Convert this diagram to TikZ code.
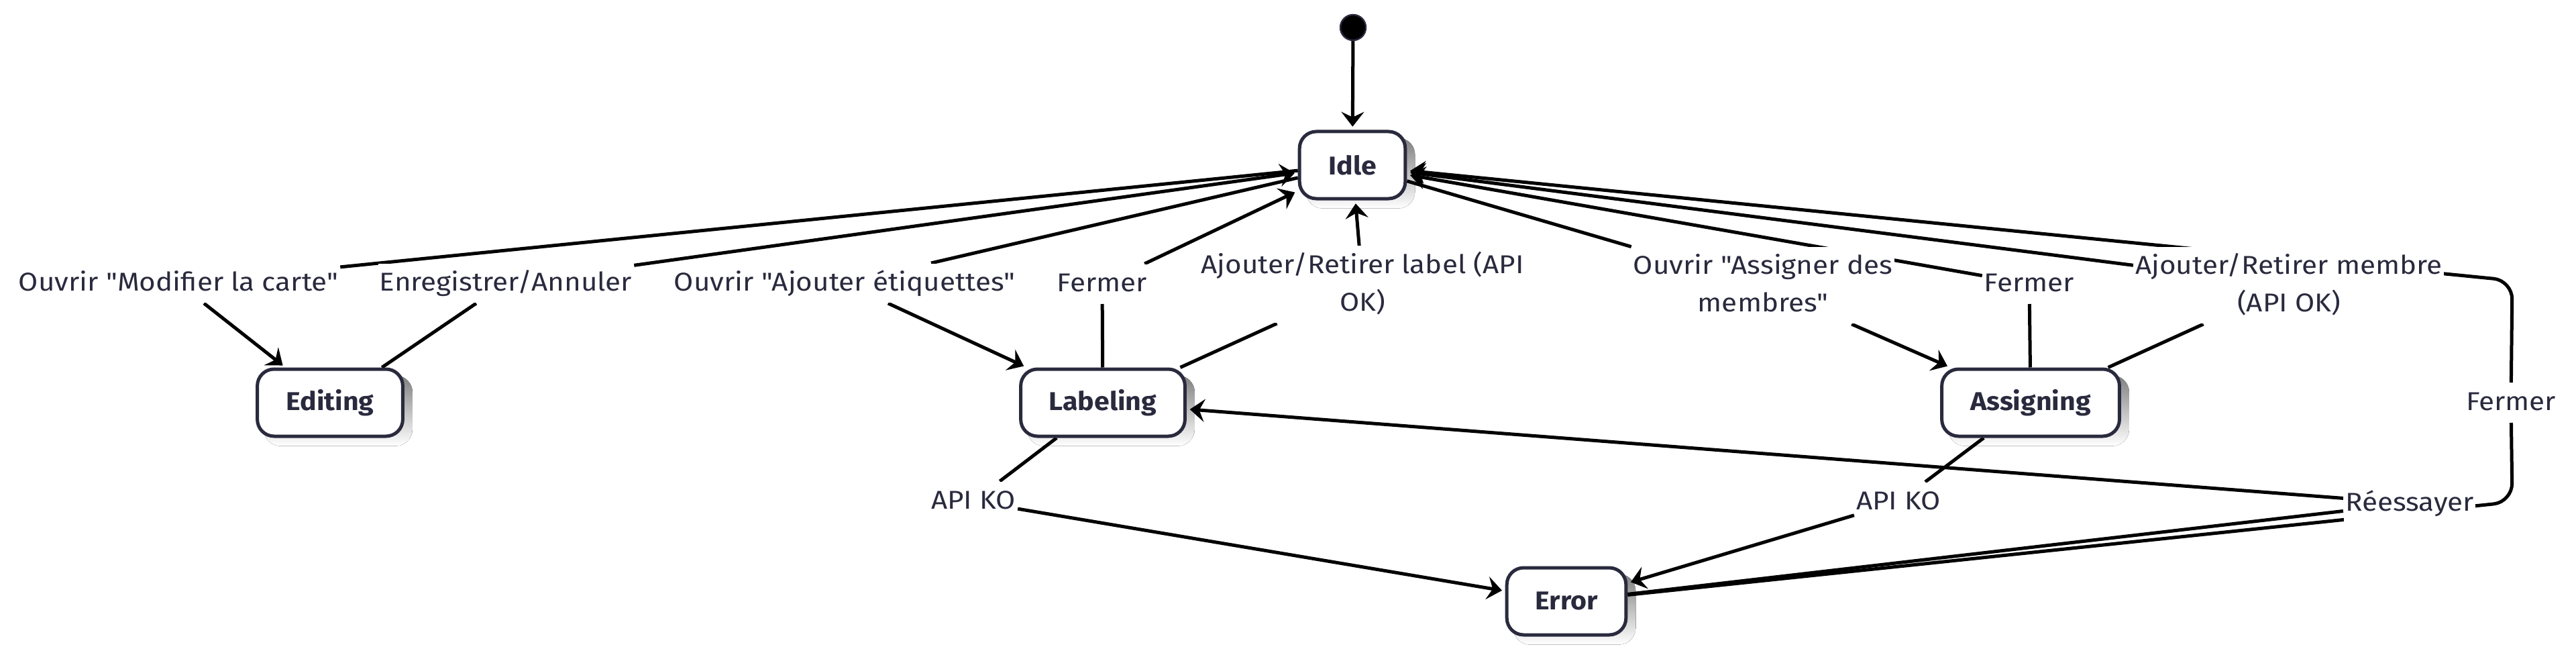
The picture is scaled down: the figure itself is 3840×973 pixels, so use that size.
\documentclass[tikz,border=0pt]{standalone}
\usepackage{fontspec}
\setmainfont{Fira Sans}[Ligatures=TeXOff]
\newfontfamily\lblfont{Fira Sans}[Ligatures=TeXOff, FakeStretch=1.1]
\newfontfamily\statefont{Fira Sans}[Ligatures=TeXOff, FakeStretch=1.07]
\usetikzlibrary{arrows.meta}
\definecolor{ink}{RGB}{42,42,62}
\definecolor{shade}{RGB}{238,238,238}
\pgfdeclarelayer{shadowlayer}
\pgfdeclarelayer{edgelayer}
\pgfsetlayers{shadowlayer,edgelayer,main}
\tikzset{
  state/.style={draw=ink, line width=1.25pt, fill=white, rounded corners=6.25pt,
    minimum height=25pt, text=ink, inner sep=0pt,
    font=\statefont\fontsize{9.6pt}{12pt}\selectfont\bfseries},
  lbl/.style={fill=white, text=ink, align=center, inner xsep=0.6pt, inner ysep=0.3pt,
    font=\lblfont\fontsize{9.6pt}{14pt}\selectfont},
  edge/.style={draw=black, line width=1.25pt,
    -{Stealth[length=5.5pt, width=8.5pt, inset=2pt]}, shorten >=1.2pt},
  startdot/.style={circle, fill=black, draw=ink, line width=0.6pt, minimum size=9.5pt, inner sep=0pt},
}
\begin{document}
\begin{tikzpicture}[x=0.25pt, y=-0.25pt]
\useasboundingbox (0,0) rectangle (3840,973);
\begin{pgfonlayer}{shadowlayer}
\fill[white] (0,0) rectangle (3840,973);
\end{pgfonlayer}

% states
\node[startdot] (start) at (2017,41) {};
\node[state, minimum width=39.4pt] (Idle) at (2016,246) {Idle};
\node[state, minimum width=54.2pt] (Editing) at (492,600) {Editing};
\node[state, minimum width=61.2pt] (Labeling) at (1644,600) {Labeling};
\node[state, minimum width=66.2pt] (Assigning) at (3027,600) {Assigning};
\node[state, minimum width=44.4pt] (Error) at (2335,896) {Error};

% labels
\node[lbl] (L1) at (266,422) {\strut Ouvrir "Modifier la carte"};
\node[lbl] (L2) at (754,422) {\strut Enregistrer/Annuler};
\node[lbl] (L3) at (1259,422) {\strut Ouvrir "Ajouter étiquettes"};
\node[lbl] (L4) at (1643,423) {\strut Fermer};
\node[lbl] (L5) at (2031,424) {\strut Ajouter/Retirer label (API\\\strut OK)};
\node[lbl] (L6) at (2628,425) {\strut Ouvrir "Assigner des\\\strut membres"};
\node[lbl] (L7) at (3025,423) {\strut Fermer};
\node[lbl] (L8) at (3412,425) {\strut Ajouter/Retirer membre\\\strut (API OK)};
\node[lbl] (L9) at (3743,600) {\strut Fermer};
\node[lbl] (L10) at (3592,750) {\strut Réessayer};
\node[lbl] (L11) at (1451,747) {\strut API KO};
\node[lbl] (L12) at (2830,748) {\strut API KO};

\coordinate (c1) at (3745,748);
\coordinate (c2) at (3745,418);

% shadows
\begin{pgfonlayer}{shadowlayer}
\foreach \n in {Idle,Editing,Labeling,Assigning,Error}{
  \fill[shade, rounded corners=6.25pt] ([shift={(3pt,-3pt)}]\n.south west) rectangle ([shift={(3pt,-3pt)}]\n.north east);
}
\end{pgfonlayer}

% edges
\begin{pgfonlayer}{edgelayer}
\draw[edge] (start) -- (Idle);
\draw[edge] (Idle) -- (L1) -- (Editing);
\draw[edge] (Editing) -- (L2) -- (Idle);
\draw[edge] (Idle) -- (L3) -- (Labeling);
\draw[edge] (Labeling) -- (L4) -- (Idle);
\draw[edge] (Labeling) -- (L5) -- (Idle);
\draw[edge] (Idle) -- (L6) -- (Assigning);
\draw[edge] (Assigning) -- (L7) -- (Idle);
\draw[edge] (Assigning) -- (L8) -- (Idle);
\draw[edge] (Labeling) -- (L11) -- (Error);
\draw[edge] (Assigning) -- (L12) -- (Error);
\draw[edge] (Error) -- (L10) -- (Labeling);
\draw[edge, rounded corners=7pt] (Error) -- (c1) -- (L9) -- (c2) -- (Idle);
\end{pgfonlayer}
\end{tikzpicture}
\end{document}
